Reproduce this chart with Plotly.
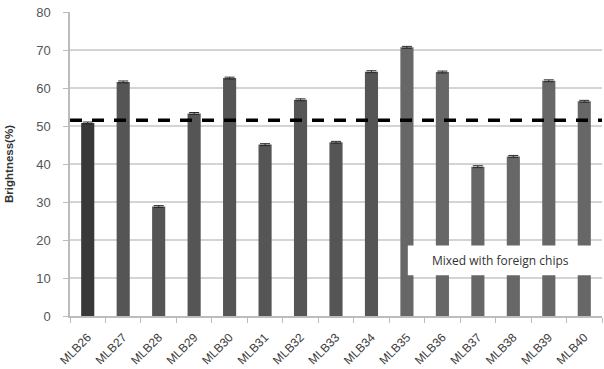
import plotly.graph_objects as go

categories = ["MLB26", "MLB27", "MLB28", "MLB29", "MLB30", "MLB31", "MLB32", "MLB33",
              "MLB34", "MLB35", "MLB36", "MLB37", "MLB38", "MLB39", "MLB40"]
brightness = [50.8, 61.6, 28.8, 53.3, 62.6, 45.1, 56.9, 45.7, 64.3, 70.7, 64.2, 39.3, 42.0, 61.9, 56.5]
errors = [0.25] * 15
threshold = 51.5
bar_colors = ["#383838"] + ["#555555"] * 8 + ["#676767"] * 6
note = "Mixed with foreign chips"

fig = go.Figure()
fig.add_trace(go.Bar(
    x=categories, y=brightness,
    marker=dict(color=bar_colors, line=dict(width=0)),
    error_y=dict(type="data", array=errors, color="#2a2a2a", thickness=1, width=5),
))

fig.add_shape(type="line", xref="paper", yref="y", x0=0, x1=1, y0=threshold, y1=threshold,
              line=dict(color="black", width=3.5, dash="12px,10px"))

# white annotation box
fig.add_shape(type="rect", xref="paper", yref="paper",
              x0=0.635, x1=1.01, y0=(318 - 277) / 306, y1=(318 - 247) / 306,
              fillcolor="white", line=dict(width=0), layer="above")
fig.add_annotation(text=note, xref="paper", yref="paper", x=0.81, y=(318 - 262) / 306,
                   xanchor="center", yanchor="middle",
                   showarrow=False, font=dict(family="Open Sans, Liberation Sans", size=12, color="#333333"))

fig.update_layout(
    width=604, height=369,
    margin=dict(l=70, r=2, t=12, b=51),
    paper_bgcolor="white", plot_bgcolor="white",
    bargap=0.63,
    showlegend=False,
    font=dict(family="Liberation Sans, Arial", color="#555555"),
)
fig.update_yaxes(range=[0, 80], dtick=10, showgrid=True, gridcolor="#d4d4d4", gridwidth=1.5,
                 showline=True, linecolor="#bcbcbc", linewidth=1.5, ticks="outside",
                 ticklen=5, tickcolor="#bcbcbc", tickfont=dict(size=13, color="#555555"),
                 ticklabelstandoff=10,
                 title=dict(text="<b>Brightness(%)</b>", font=dict(size=11.5, color="#333333"), standoff=20),
                 zeroline=False)
fig.update_xaxes(showline=True, linecolor="#bcbcbc", linewidth=1.5, ticks="outside", tickson="boundaries",
                 ticklen=5, tickcolor="#bcbcbc", tickangle=-45, ticklabelstandoff=8,
                 tickfont=dict(size=12, color="#3a3a3a"))

fig.write_html("out.html")
